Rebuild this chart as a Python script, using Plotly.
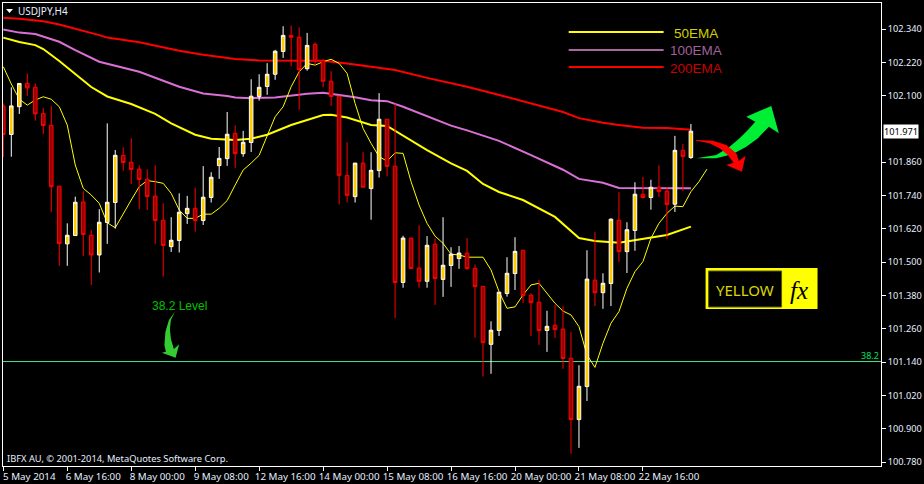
import plotly.graph_objects as go

W, H = 924, 484
L, R, T, B = 3, 881.5, 3, 466

opens = [102.063,101.960,102.060,102.144,102.130,102.036,101.993,101.774,101.566,101.596,
         101.717,101.597,101.526,101.643,101.715,101.885,101.860,101.835,101.799,101.738,
         101.651,101.556,101.578,101.675,101.694,101.650,101.733,101.848,101.873,101.964,
         101.891,101.931,102.097,102.133,102.177,102.259,102.317,102.310,102.197,102.285,
         102.227,102.152,102.098,101.813,101.736,101.857,101.765,101.830,102.015,101.846,
         101.427,101.587,101.479,101.431,101.565,101.438,101.488,101.513,101.533,101.478,
         101.413,101.204,101.254,101.387,101.459,101.543,101.381,101.356,101.254,101.273,
         101.259,101.154,100.933,101.052,101.435,101.390,101.423,101.651,101.538,101.614,
         101.745,101.733,101.770,101.756,101.709,101.903,101.877]
highs = [102.072,102.130,102.144,102.180,102.144,102.056,102.063,101.774,101.640,101.736,
         101.756,101.616,101.691,102.000,101.904,101.914,101.946,101.849,101.835,101.849,
         101.712,101.662,101.748,101.739,101.768,101.846,101.824,101.915,102.041,101.993,
         101.973,102.159,102.177,102.217,102.265,102.350,102.353,102.346,102.326,102.292,
         102.231,102.188,102.098,101.932,101.857,101.896,101.896,102.109,102.015,102.072,
         101.595,101.587,101.633,101.594,101.587,101.662,101.554,101.558,101.587,101.492,
         101.413,101.287,101.392,101.518,101.590,101.543,101.388,101.436,101.325,101.345,
         101.341,101.248,101.129,101.543,101.608,101.460,101.658,101.752,101.644,101.788,
         101.807,101.797,101.849,101.770,101.955,101.926,101.998]
lows = [101.878,101.880,102.034,102.099,102.010,101.962,101.681,101.487,101.487,101.596,
        101.523,101.418,101.463,101.566,101.621,101.829,101.782,101.691,101.688,101.566,
        101.448,101.537,101.535,101.638,101.610,101.634,101.715,101.800,101.847,101.840,
        101.880,101.897,102.082,102.103,102.157,102.236,102.205,102.049,102.190,102.211,
        102.130,102.063,101.708,101.715,101.715,101.770,101.653,101.805,101.809,101.299,
        101.408,101.477,101.408,101.408,101.346,101.375,101.411,101.476,101.472,101.228,
        101.088,101.098,101.234,101.376,101.400,101.353,101.234,101.202,101.177,101.227,
        101.116,100.810,100.831,101.000,101.342,101.332,101.342,101.501,101.461,101.541,
        101.729,101.689,101.735,101.584,101.681,101.757,101.872]
closes = [101.960,102.063,102.144,102.128,102.034,101.992,101.772,101.567,101.597,101.716,
          101.600,101.526,101.644,101.716,101.885,101.859,101.834,101.798,101.736,101.650,
          101.560,101.579,101.680,101.694,101.650,101.734,101.806,101.874,101.961,101.891,
          101.932,102.098,102.130,102.177,102.260,102.317,102.310,102.194,102.281,102.224,
          102.152,102.097,101.813,101.741,101.857,101.770,101.831,102.015,101.845,101.427,
          101.587,101.477,101.431,101.561,101.441,101.489,101.529,101.533,101.477,101.412,
          101.210,101.255,101.392,101.460,101.539,101.380,101.354,101.254,101.269,101.257,
          101.153,100.933,101.053,101.439,101.390,101.424,101.655,101.538,101.617,101.745,
          101.733,101.770,101.755,101.708,101.903,101.881,101.972]

fast_ma = [102.204,102.142,102.087,102.066,102.084,102.096,102.087,102.060,101.994,101.850,
           101.766,101.742,101.712,101.642,101.624,101.676,101.724,101.772,101.794,101.790,
           101.784,101.748,101.688,101.658,101.658,101.673,101.673,101.694,101.722,101.778,
           101.832,101.857,101.885,101.955,102.024,102.060,102.132,102.186,102.216,102.210,
           102.222,102.231,102.216,102.180,102.072,101.982,101.928,101.880,101.864,101.894,
           101.892,101.790,101.706,101.640,101.594,101.568,101.529,101.526,101.518,101.518,
           101.518,101.472,101.394,101.334,101.339,101.382,101.418,101.424,101.388,101.352,
           101.324,101.310,101.268,101.166,101.121,101.208,101.280,101.322,101.406,101.466,
           101.502,101.586,101.640,101.676,101.702,101.700,101.754,101.790,101.835]

ema50_bars = [0,2,4,5,7,9,11,13,16,19,21,24,26,29,31,33,36,40,41,43,46,48,50,53,56,58,60,62,65,69,72,74,77,80,83,86]
ema50 = [102.309,102.293,102.282,102.268,102.225,102.179,102.131,102.097,102.070,102.034,102.000,101.959,
         101.945,101.940,101.945,101.959,101.994,102.030,102.031,102.021,101.994,101.991,101.955,101.904,
         101.856,101.829,101.782,101.753,101.724,101.663,101.587,101.576,101.570,101.584,101.598,101.628]
ema100_bars = [0,2,4,7,9,12,17,19,22,25,28,29,31,34,36,38,40,42,44,46,48,50,53,56,58,62,66,70,72,75,77,80,86]
ema100 = [102.338,102.327,102.322,102.294,102.264,102.222,102.186,102.164,102.132,102.108,102.099,102.093,
          102.091,102.093,102.101,102.107,102.110,102.103,102.094,102.083,102.080,102.060,102.026,101.992,
          101.975,101.937,101.886,101.833,101.800,101.786,101.767,101.767,101.766]
ema200_bars = [0,2,5,7,12,13,17,22,25,29,32,38,40,43,46,49,53,58,63,70,72,75,77,80,83,86]
ema200 = [102.381,102.377,102.368,102.356,102.318,102.309,102.292,102.262,102.247,102.232,102.227,102.226,
          102.226,102.216,102.204,102.192,102.164,102.132,102.095,102.041,102.019,102.002,101.994,101.984,
          101.983,101.977]

y_ticks = [100.78,100.90,101.02,101.14,101.26,101.38,101.50,101.62,101.74,101.86,102.10,102.22,102.34]
x_tick_bars = [0,8,16,24,32,40,48,56,64,72,80]
x_tick_labels = ["5 May 2014","6 May 16:00","8 May 00:00","9 May 08:00","12 May 16:00","14 May 00:00",
                 "15 May 08:00","16 May 16:00","20 May 00:00","21 May 08:00","22 May 16:00"]
last_price = 101.971
fib_382 = 101.142

bars = list(range(len(opens)))
fast_bars = list(range(len(fast_ma)))

price_at = lambda py: 102.4445 - 0.0036024 * py
bar_at = lambda px: (px - 3.3) / 8
x_range = [bar_at(L), bar_at(R)]
y_range = [price_at(B), price_at(T)]

UI = "Noto Sans"

def fx(px):
    return (px - L) / (R - L)
def fy(py):
    return (B - py) / (B - T)
def path(points):
    return "M " + " L ".join(f"{fx(x):.5f},{fy(y):.5f}" for x, y in points) + " Z"

fig = go.Figure()
fig.add_trace(go.Scatter(x=ema200_bars, y=ema200, mode="lines", name="200EMA", line=dict(color="#ff0000", width=2), showlegend=False))
fig.add_trace(go.Scatter(x=ema100_bars, y=ema100, mode="lines", name="100EMA", line=dict(color="#da70d6", width=2), showlegend=False))
fig.add_trace(go.Scatter(x=ema50_bars, y=ema50, mode="lines", name="50EMA", line=dict(color="#ffff00", width=2), showlegend=False))
fig.add_trace(go.Scatter(x=fast_bars, y=fast_ma, mode="lines", name="MA", line=dict(color="#ffff00", width=1), showlegend=False))
fig.add_trace(go.Candlestick(
    x=bars, open=opens, high=highs, low=lows, close=closes, xaxis="x2", yaxis="y2", whiskerwidth=0,
    increasing=dict(line=dict(color="#ffffff", width=1), fillcolor="#ffcc00"),
    decreasing=dict(line=dict(color="#ff0000", width=1), fillcolor="#a00000"),
    showlegend=False))

shapes = [
    dict(type="line", xref="paper", yref="y", x0=0, x1=1, y0=fib_382, y1=fib_382, line=dict(color="#44e696", width=1), layer="below"),
    dict(type="line", xref="paper", yref="paper", x0=fx(569), x1=fx(664), y0=fy(32), y1=fy(32), line=dict(color="#ffff00", width=2)),
    dict(type="line", xref="paper", yref="paper", x0=fx(569), x1=fx(664), y0=fy(50), y1=fy(50), line=dict(color="#a8689e", width=2)),
    dict(type="line", xref="paper", yref="paper", x0=fx(569), x1=fx(664), y0=fy(67), y1=fy(67), line=dict(color="#ff0000", width=2)),
    dict(type="path", xref="paper", yref="paper", path=path([(6,9),(13,9),(9.5,13)]), fillcolor="#ffffff", line=dict(width=0)),
    dict(type="path", xref="paper", yref="paper", fillcolor="#00ee33", line=dict(width=0), path=path([
        (696.7,158.3),(716.7,158.3),(733.3,154),(746.7,146.7),(758.3,138.3),(769.3,126.7),(779.3,133.3),(771.7,106),
        (746.7,116.7),(755.7,121.7),(748.3,130),(740,138.3),(730,146.7),(716.7,155),(696.7,158.3)])),
    dict(type="path", xref="paper", yref="paper", fillcolor="#ff0000", line=dict(width=0), path=path([
        (696.7,140),(713.3,140.7),(726.7,145),(736.7,153.3),(739.3,161),(746,155.7),(742.3,171.7),(726.7,165),
        (734,162.7),(728.3,155),(720,148.3),(710,143.3),(696.7,140.7)])),
    dict(type="path", xref="paper", yref="paper", fillcolor="#33cc33", line=dict(width=0), path=path([
        (175,311.7),(169,320),(165.5,332),(164.5,345),(166,351.7),(162,352.7),(175.7,357.7),(179.3,344.3),(174,349),
        (171,339),(170,329),(171,320)])),
    dict(type="rect", xref="paper", yref="paper", x0=fx(706), x1=fx(818), y0=fy(268), y1=fy(309), fillcolor="#ffff00", line=dict(width=0)),
    dict(type="rect", xref="paper", yref="paper", x0=fx(709), x1=fx(782), y0=fy(271), y1=fy(307), fillcolor="#000000", line=dict(color="#5a5a00", width=1)),
]

def note(text, px, py, color, size, family=UI, anchor="left", **kw):
    return dict(text=text, xref="paper", yref="paper", x=fx(px), y=fy(py), showarrow=False, xanchor=anchor,
                yanchor="middle", font=dict(color=color, size=size, family=family), **kw)

annotations = [
    note("USDJPY,H4", 16.5, 10.5, "#e6efff", 10),
    note("IBFX AU, © 2001-2014, MetaQuotes Software Corp.", 5.5, 458, "#e6efff", 9.3),
    note("50EMA", 696.5, 33, "#d0d000", 13.5, "Liberation Sans", "center"),
    note("100EMA", 696.5, 50.5, "#a0609a", 13.5, "Liberation Sans", "center"),
    note("200EMA", 696.5, 68, "#c80000", 13.5, "Liberation Sans", "center"),
    note("38.2 Level", 180, 305.5, "#00c000", 12, "Liberation Sans", "center"),
    note("38.2", 881, 355.5, "#00e060", 9, UI, "right"),
    note("YELLOW", 745.5, 290, "#d8d800", 15, UI, "center"),
    note("<i>fx</i>", 799, 290, "#000000", 25, "Liberation Serif", "center"),
    dict(text=f"{last_price:.3f}", xref="paper", yref="y", x=fx(884), y=last_price, showarrow=False, xanchor="left",
         yanchor="middle", bgcolor="#ffffff", borderpad=0, font=dict(color="#000000", size=9.2, family=UI)),
]

axis_common = dict(showgrid=False, zeroline=False, showline=True, linecolor="#ffffff", linewidth=1, mirror=True,
                   ticks="outside", tickcolor="#ffffff", ticklen=4, tickwidth=1, automargin=False, tickangle=0,
                   ticklabeloverflow="allow")

fig.update_layout(
    width=W, height=H, autosize=False,
    paper_bgcolor="#000000", plot_bgcolor="#000000",
    margin=dict(l=L, r=W - R, t=T, b=H - B, pad=0, autoexpand=False),
    showlegend=False, shapes=shapes, annotations=annotations, boxgap=0.36,
    xaxis=dict(range=x_range, tickmode="array", tickvals=x_tick_bars, ticktext=x_tick_labels,
               ticklabelshift=26, ticklabelstandoff=-3, rangeslider=dict(visible=False),
               tickfont=dict(color="#e6efff", size=9.8, family=UI), **axis_common),
    yaxis=dict(range=y_range, side="right", tickmode="array", tickvals=y_ticks,
               ticktext=[f"{v:.3f}" for v in y_ticks],
               tickfont=dict(color="#e6efff", size=9.2, family=UI), **axis_common),
    xaxis2=dict(range=x_range, overlaying="x", visible=False, rangeslider=dict(visible=False)),
    yaxis2=dict(range=y_range, overlaying="y", visible=False),
)

fig.write_html("out.html", config=dict(displayModeBar=False),
               post_script="document.body.style.margin='0';document.body.style.background='#000';")
